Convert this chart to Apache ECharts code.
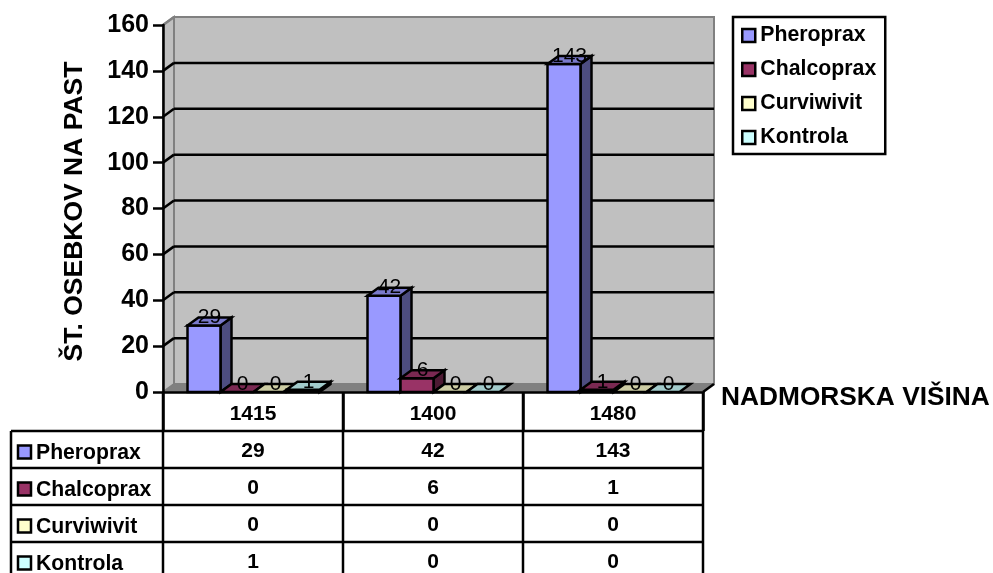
<!DOCTYPE html>
<html>
<head>
<meta charset="utf-8">
<style>
html,body{margin:0;padding:0;background:#fff}
#main{width:993px;height:573px}
</style>
<script src="https://cdn.jsdelivr.net/npm/echarts@6/dist/echarts.min.js"></script>
</head>
<body>
<div id="main"></div>
<script>
const categories = ['1415', '1400', '1480'];
const seriesNames = ['Pheroprax', 'Chalcoprax', 'Curviwivit', 'Kontrola'];
const pheroprax = [29, 42, 143];
const chalcoprax = [0, 6, 1];
const curviwivit = [0, 0, 0];
const kontrola = [1, 0, 0];
const yTicks = [20, 40, 60, 80, 100, 120, 140, 160];

const allValues = [pheroprax, chalcoprax, curviwivit, kontrola];
// front, top, side
const colors = [
  ['#9999ff', '#7a7acc', '#4d4d80'],
  ['#993366', '#7a2952', '#4d1a33'],
  ['#ffffcc', '#cccca3', '#808066'],
  ['#ccffff', '#a3cccc', '#668080']
];
const FONT = '"Liberation Sans", Arial, sans-serif';
const DX = 11, DY = -8; // 3d depth of the chart

let chart = echarts.init(document.getElementById('main'));

function poly(points, fill, stroke, lineWidth) {
  return {
    type: 'polygon',
    shape: { points: points },
    style: { fill: fill, stroke: stroke, lineWidth: lineWidth, lineJoin: 'miter' }
  };
}

function renderWalls(params) {
  const c = params.coordSys;
  const l = c.x, r = c.x + c.width, t = c.y, b = c.y + c.height;
  return {
    type: 'group',
    children: [
      poly([[l + DX, t + DY], [r + DX, t + DY], [r + DX, b + DY], [l + DX, b + DY]], '#c0c0c0', '#808080', 2),
      poly([[l, t], [l + DX, t + DY], [l + DX, b + DY], [l, b]], '#c0c0c0', '#808080', 2),
      poly([[l, b], [l + DX, b + DY], [r + DX, b + DY], [r, b]], '#808080', '#808080', 1),
      { type: 'line', shape: { x1: r, y1: b, x2: r + DX, y2: b + DY }, style: { stroke: '#000', lineWidth: 2.5 } }
    ]
  };
}

function renderGrid(params, api) {
  const c = params.coordSys;
  const y = api.coord([0, api.value(0)])[1];
  const l = c.x, r = c.x + c.width;
  const isTop = api.value(0) === yTicks[yTicks.length - 1];
  const children = [{
    type: 'line',
    shape: { x1: l, y1: y, x2: l + DX, y2: y + DY },
    style: { stroke: isTop ? '#808080' : '#000', lineWidth: 2.5 }
  }];
  if (!isTop) {
    children.push({
      type: 'line',
      shape: { x1: l + DX, y1: y + DY, x2: r + DX, y2: y + DY },
      style: { stroke: '#000', lineWidth: 2.5 }
    });
  }
  return { type: 'group', children: children };
}

function barLeft(api, cat, val, sIdx) {
  const band = api.size([1, 0])[0];
  const w = band * 33 / 180;
  return [api.coord([cat, val])[0] + (sIdx - 2) * w + 0.5, w];
}

function barRenderer(sIdx) {
  return function (params, api) {
    const cat = api.value(0), val = api.value(1);
    const xw = barLeft(api, cat, val, sIdx);
    const x0 = xw[0], x1 = x0 + xw[1];
    const y0 = api.coord([cat, val])[1], yb = api.coord([cat, 0])[1];
    const col = colors[sIdx];
    const children = [];
    if (val > 0) {
      children.push(poly([[x1, y0], [x1 + DX, y0 + DY], [x1 + DX, yb + DY], [x1, yb]], col[2], '#000', 2.5));
      children.push(poly([[x0, y0], [x1, y0], [x1, yb], [x0, yb]], col[0], '#000', 2.5));
    }
    children.push(poly([[x0, y0], [x0 + DX, y0 + DY], [x1 + DX, y0 + DY], [x1, y0]], col[1], '#000', 2.5));
    return { type: 'group', children: children };
  };
}

// value labels sit above all the bars
function labelRenderer(sIdx) {
  return function (params, api) {
    const cat = api.value(0), val = api.value(1);
    const xw = barLeft(api, cat, val, sIdx);
    return {
      type: 'text',
      style: {
        x: xw[0] + (xw[1] + DX) / 2,
        y: api.coord([cat, val])[1] + DY / 2 - 4,
        text: String(val),
        align: 'center',
        verticalAlign: 'middle',
        font: '21px ' + FONT,
        fill: '#000'
      }
    };
  };
}

let option = {
  animation: false,
  textStyle: { fontFamily: FONT },
  legend: {
    left: 733,
    top: 17,
    orient: 'vertical',
    icon: 'rect',
    itemWidth: 13,
    itemHeight: 13,
    itemGap: 13,
    padding: [8, 9, 6, 8],
    borderColor: '#000',
    borderWidth: 2.5,
    backgroundColor: '#fff',
    selectedMode: false,
    textStyle: { fontFamily: FONT, fontWeight: 'bold', fontSize: 21.3, color: '#000' },
    data: seriesNames.map((n, i) => ({
      name: n,
      itemStyle: { color: colors[i][0], borderColor: '#000', borderWidth: 2.5 }
    }))
  },
  grid: { left: 163, top: 25, width: 540, height: 367 },
  xAxis: {
    type: 'category',
    data: categories,
    z: 10,
    name: 'NADMORSKA VIŠINA',
    nameLocation: 'end',
    nameGap: 18,
    nameTextStyle: { fontFamily: FONT, fontWeight: 'bold', fontSize: 26.3, color: '#000', verticalAlign: 'top', lineHeight: 12 },
    axisLine: { lineStyle: { color: '#000', width: 2.5 } },
    axisTick: { show: true, length: 39, lineStyle: { color: '#000', width: 2.5 } },
    axisLabel: { margin: 12, fontFamily: FONT, fontWeight: 'bold', fontSize: 21, color: '#000' },
    splitLine: { show: false }
  },
  yAxis: {
    type: 'value',
    min: 0,
    max: 160,
    interval: 20,
    z: 10,
    name: 'ŠT. OSEBKOV NA PAST',
    nameLocation: 'middle',
    nameGap: 75,
    nameRotate: 90,
    nameTextStyle: { fontFamily: FONT, fontWeight: 'bold', fontSize: 26.5, color: '#000', padding: [0, 6, 0, 0] },
    axisLine: { show: true, lineStyle: { color: '#000', width: 2.5 } },
    axisTick: { show: true, length: 10, lineStyle: { color: '#000', width: 2.5 } },
    axisLabel: { margin: 14, fontFamily: FONT, fontWeight: 'bold', fontSize: 25, color: '#000' },
    splitLine: { show: false }
  },
  series: [
    { type: 'custom', name: 'walls', silent: true, z: 1, renderItem: renderWalls, data: [[0]] },
    { type: 'custom', name: 'gridlines', silent: true, z: 2, renderItem: renderGrid, encode: { y: 0 }, data: yTicks.map(v => [v]) }
  ].concat(seriesNames.map((n, i) => ({
    type: 'custom',
    name: n,
    z: 3 + i,
    silent: true,
    itemStyle: { color: colors[i][0] },
    renderItem: barRenderer(i),
    encode: { x: 0, y: 1 },
    data: categories.map((c, k) => [k, allValues[i][k]])
  }))).concat(seriesNames.map((n, i) => ({
    type: 'custom',
    name: n + ' labels',
    zlevel: 1,
    silent: true,
    renderItem: labelRenderer(i),
    encode: { x: 0, y: 1 },
    data: categories.map((c, k) => [k, allValues[i][k]])
  })))
};
chart.setOption(option);

// data table under the axis
function buildTable() {
  const els = [];
  const lineStyle = { stroke: '#000', lineWidth: 2.5 };
  const band = chart.convertToPixel({ xAxisIndex: 0 }, 1) - chart.convertToPixel({ xAxisIndex: 0 }, 0);
  const firstX = chart.convertToPixel({ xAxisIndex: 0 }, 0) - band / 2;
  const lastX = firstX + band * categories.length;
  const baseY = chart.convertToPixel({ yAxisIndex: 0 }, 0);
  const headH = 39, rowH = 37, leftX = 11, bottom = 573;
  // vertical lines
  for (let i = 0; i <= categories.length; i++) {
    const x = firstX + band * i;
    els.push({ type: 'line', shape: { x1: x, y1: baseY, x2: x, y2: bottom }, style: lineStyle });
  }
  els.push({ type: 'line', shape: { x1: leftX, y1: baseY + headH, x2: leftX, y2: bottom }, style: lineStyle });
  seriesNames.forEach((n, r) => {
    const top = baseY + headH + rowH * r;
    const mid = top + rowH / 2;
    els.push({ type: 'line', shape: { x1: leftX, y1: top, x2: lastX, y2: top }, style: lineStyle });
    els.push({
      type: 'rect',
      shape: { x: 18, y: mid + 3 - 7, width: 13, height: 13 },
      style: { fill: colors[r][0], stroke: '#000', lineWidth: 2.5 }
    });
    els.push({
      type: 'text',
      style: { x: 36, y: mid + 4, text: n, align: 'left', verticalAlign: 'middle', font: 'bold 21.2px ' + FONT, fill: '#000' }
    });
    categories.forEach((c, k) => {
      els.push({
        type: 'text',
        style: {
          x: firstX + band * (k + 0.5),
          y: mid + 2,
          text: String(allValues[r][k]),
          align: 'center',
          verticalAlign: 'middle',
          font: 'bold 21px ' + FONT,
          fill: '#000'
        }
      });
    });
  });
  return els;
}
chart.setOption({ graphic: { elements: buildTable() } });
</script>
</body>
</html>
